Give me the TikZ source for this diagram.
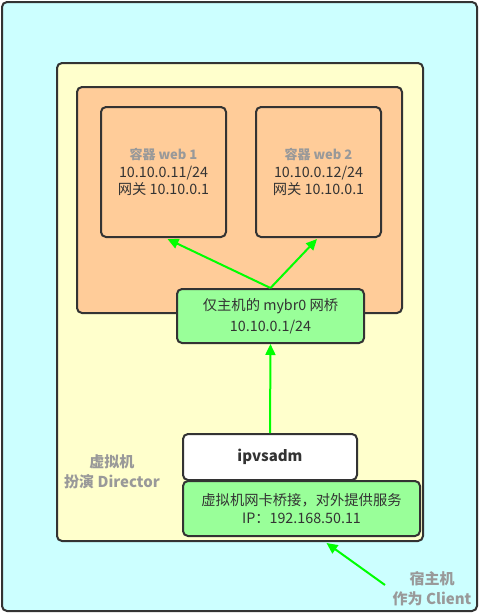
\documentclass[tikz,border=0pt]{standalone}
\usepackage{fontspec}
\setmainfont{Noto Sans CJK SC}
\usetikzlibrary{arrows.meta,calc}
\definecolor{cyanbg}{HTML}{CCFFFF}
\definecolor{vmbg}{HTML}{FFFFCC}
\definecolor{orbg}{HTML}{FFCC99}
\definecolor{grbg}{HTML}{99FF99}
\definecolor{edge}{HTML}{333333}
\definecolor{txt}{HTML}{333333}
\definecolor{graytxt}{HTML}{999999}
\definecolor{arrowgreen}{HTML}{00FF00}
\tikzset{
  box/.style={draw=edge, line width=2pt, rounded corners=5pt, rectangle, inner sep=0pt, align=center, text=txt},
  arr/.style={draw=arrowgreen, line width=2pt, -{Triangle[length=11pt,width=10pt]}},
  lbl/.style={text=graytxt, font=\fontsize{15}{20}\selectfont\bfseries, align=center, inner sep=0pt}
}
\begin{document}
\begin{tikzpicture}[x=1pt,y=-1pt]
\useasboundingbox (0,0) rectangle (479,614);
\node[box, fill=cyanbg, minimum width=475pt, minimum height=609pt] (outer) at (239.5,306.5) {};
\node[box, fill=vmbg, minimum width=366pt, minimum height=478pt] (vm) at (240,302) {};
\node[box, fill=orbg, minimum width=325pt, minimum height=226pt] (orange) at (239.5,200) {};
\node[box, fill=orbg, minimum width=125pt, minimum height=130pt, font=\fontsize{14.3}{17.5}\selectfont] (web1) at (163.5,172) {{\fontsize{13}{17.5}\selectfont\color{graytxt}\bfseries 容器 web 1}\\10.10.0.11/24\\网关 10.10.0.1};
\node[box, fill=orbg, minimum width=125pt, minimum height=130pt, font=\fontsize{14.3}{17.5}\selectfont] (web2) at (318.5,172) {{\fontsize{13}{17.5}\selectfont\color{graytxt}\bfseries 容器 web 2}\\10.10.0.12/24\\网关 10.10.0.1};
\node[box, fill=grbg, minimum width=187pt, minimum height=54pt, font=\fontsize{14.3}{21}\selectfont] (bridge) at (270.5,316) {仅主机的 mybr0 网桥\\10.10.0.1/24};
\node[box, fill=white, minimum width=174pt, minimum height=46pt, font=\fontsize{15}{18}\selectfont\bfseries] (ipvs) at (270,457) {ipvsadm};
\node[box, fill=grbg, minimum width=237pt, minimum height=55pt, font=\fontsize{14.3}{18}\selectfont] (nic) at (301.5,508.5) {虚拟机网卡桥接，对外提供服务\\IP：192.168.50.11};
\node[lbl] (vmlabel) at (112,472) {虚拟机\\扮演 Director};
\node[lbl] (hostlabel) at (432,588.5) {宿主机\\作为 Client};
\coordinate (hostpt) at (385,585);
\draw[arr] (bridge.north) -- ($(web1.south)+(4,1)$);
\draw[arr] (bridge.north) -- ($(web2.south)+(-1.5,1)$);
\draw[arr] (ipvs.north) -- (bridge.south);
\draw[arr] (hostpt) -- ($(nic.south)+(25,6)$);
\end{tikzpicture}
\end{document}
